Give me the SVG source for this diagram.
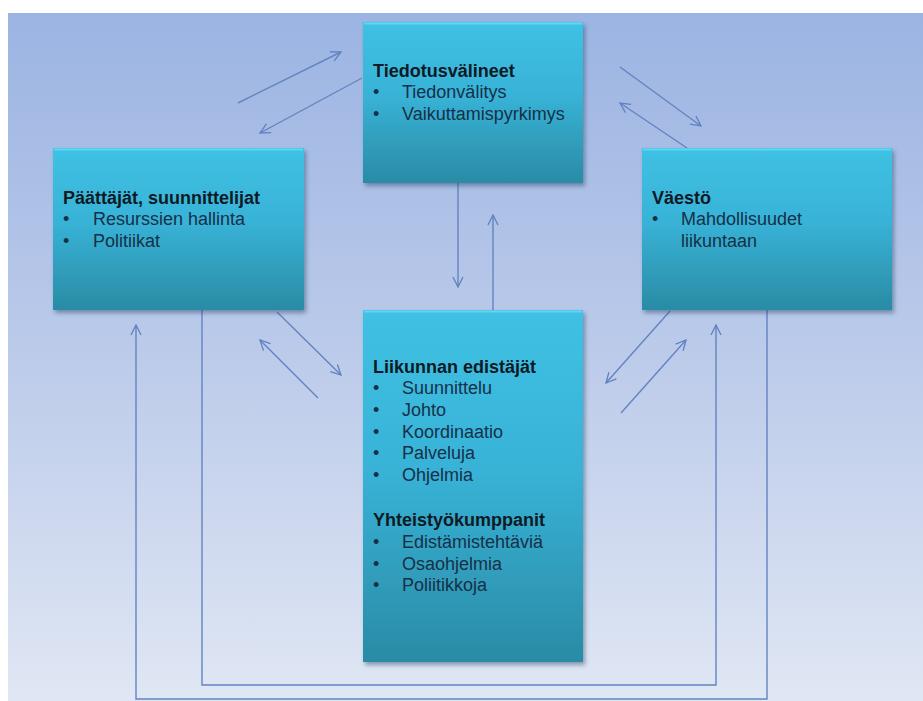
<svg xmlns="http://www.w3.org/2000/svg" width="923" height="701" viewBox="0 0 923 701">
<defs>
<linearGradient id="bg" x1="0" y1="0" x2="0" y2="1">
<stop offset="0" stop-color="#9bb4e2"/>
<stop offset="0.5" stop-color="#bccbea"/>
<stop offset="1" stop-color="#e0e7f4"/>
</linearGradient>
<linearGradient id="box" x1="0" y1="0" x2="0" y2="1">
<stop offset="0" stop-color="#3fc1e4"/>
<stop offset="0.45" stop-color="#38b3d7"/>
<stop offset="1" stop-color="#2a8ba5"/>
</linearGradient>
<filter id="sh" x="-10%" y="-10%" width="125%" height="125%">
<feDropShadow dx="2" dy="3" stdDeviation="2" flood-color="#1c3b5a" flood-opacity="0.45"/>
</filter>
<marker id="ah" viewBox="0 0 12 12" refX="11" refY="6" markerWidth="12" markerHeight="12" markerUnits="userSpaceOnUse" orient="auto">
<path d="M1,1 L11,6 L1,11" fill="none" stroke="#6080bf" stroke-width="1.3"/>
</marker>
</defs>
<style>
.b{fill:url(#box);filter:url(#sh)}
.hl{stroke:#63d6f2;stroke-width:2;fill:none}
.rd{stroke:#247c94;stroke-width:1.5;fill:none}
.t{font-family:"Liberation Sans",Arial,sans-serif;font-size:18px;font-weight:bold;fill:#0e1a24}
.i{font-family:"Liberation Sans",Arial,sans-serif;font-size:18px;fill:#163048}
.c{stroke:#6384c1;stroke-width:1.4;fill:none}
.a{marker-end:url(#ah)}
</style>
<rect x="8" y="13" width="915" height="688" fill="url(#bg)"/>

<g id="connectors">
<line class="c a" x1="238" y1="103" x2="341" y2="52"/>
<line class="c a" x1="362" y1="78" x2="260" y2="133"/>
<line class="c a" x1="620" y1="67" x2="701" y2="126"/>
<line class="c a" x1="687" y1="148" x2="620" y2="103"/>
<line class="c a" x1="458" y1="183" x2="458" y2="287"/>
<line class="c a" x1="493" y1="310" x2="493" y2="215"/>
<line class="c a" x1="277" y1="312" x2="341" y2="375"/>
<line class="c a" x1="318" y1="398" x2="260" y2="340"/>
<line class="c a" x1="670" y1="311" x2="606" y2="383"/>
<line class="c a" x1="621" y1="413" x2="686" y2="340"/>
<polyline class="c a" points="202,310 202,685 716,685 716,325"/>
<polyline class="c a" points="767,310 767,699 136,699 136,325"/>
</g>

<g id="tiedotus">
<rect class="b" x="363" y="22" width="220" height="161"/>
<line class="hl" x1="364" y1="23.5" x2="582" y2="23.5"/>
<text class="t" x="373" y="77">Tiedotusvälineet</text>
<text class="i" x="373" y="98">•</text><text class="i" x="402" y="98">Tiedonvälitys</text>
<text class="i" x="373" y="120">•</text><text class="i" x="402" y="120">Vaikuttamispyrkimys</text>
</g>

<g id="paattajat">
<rect class="b" x="53" y="148" width="251" height="162"/>
<line class="hl" x1="54" y1="149.5" x2="303" y2="149.5"/>
<text class="t" x="63" y="204">Päättäjät, suunnittelijat</text>
<text class="i" x="63" y="225">•</text><text class="i" x="93" y="225">Resurssien hallinta</text>
<text class="i" x="63" y="247">•</text><text class="i" x="93" y="247">Politiikat</text>
</g>

<g id="vaesto">
<rect class="b" x="642" y="148" width="250" height="162"/>
<line class="hl" x1="643" y1="149.5" x2="891" y2="149.5"/>
<text class="t" x="652" y="204">Väestö</text>
<text class="i" x="652" y="225">•</text><text class="i" x="681" y="225">Mahdollisuudet</text>
<text class="i" x="681" y="247">liikuntaan</text>
</g>

<g id="liikunnan">
<rect class="b" x="363" y="310" width="220" height="352"/>
<line class="hl" x1="364" y1="311.5" x2="582" y2="311.5"/>
<text class="t" x="373" y="373">Liikunnan edistäjät</text>
<text class="i" x="373" y="394">•</text><text class="i" x="402" y="394">Suunnittelu</text>
<text class="i" x="373" y="416">•</text><text class="i" x="402" y="416">Johto</text>
<text class="i" x="373" y="438">•</text><text class="i" x="402" y="438">Koordinaatio</text>
<text class="i" x="373" y="459">•</text><text class="i" x="402" y="459">Palveluja</text>
<text class="i" x="373" y="481">•</text><text class="i" x="402" y="481">Ohjelmia</text>
<text class="t" x="373" y="526">Yhteistyökumppanit</text>
<text class="i" x="373" y="548">•</text><text class="i" x="402" y="548">Edistämistehtäviä</text>
<text class="i" x="373" y="570">•</text><text class="i" x="402" y="570">Osaohjelmia</text>
<text class="i" x="373" y="591">•</text><text class="i" x="402" y="591">Poliitikkoja</text>
</g>
</svg>
